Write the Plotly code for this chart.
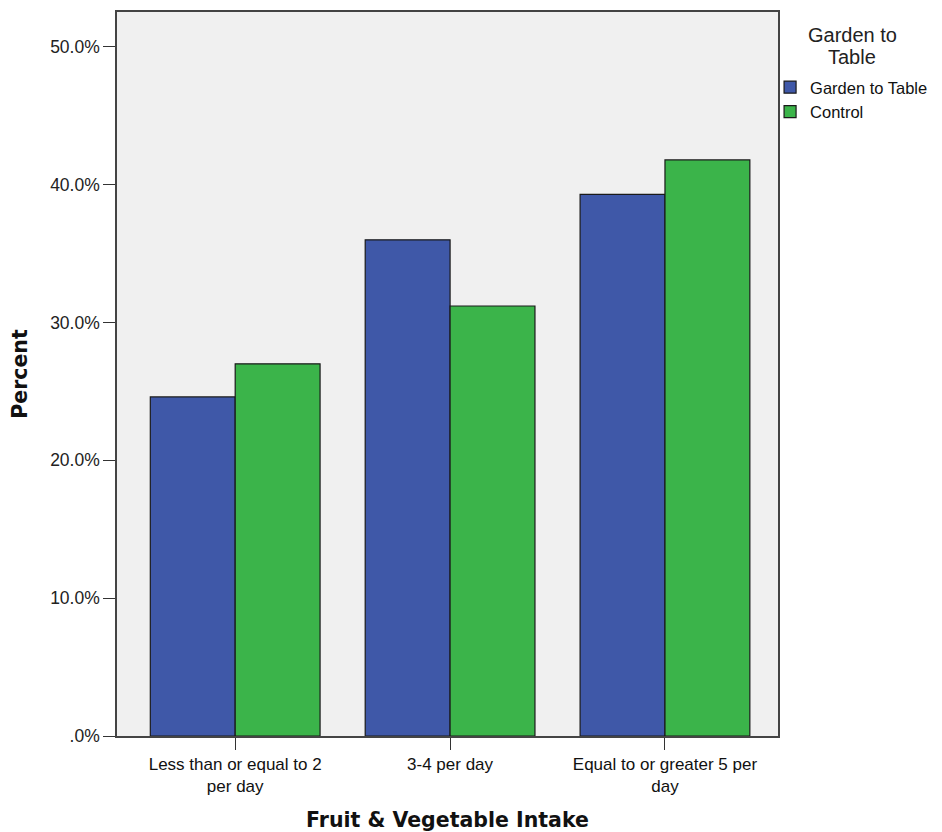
import plotly.graph_objects as go

categories = ["Less than or equal to 2<br>per day", "3-4 per day", "Equal to or greater 5 per<br>day"]
garden = [24.6, 36.0, 39.3]
control = [27.0, 31.2, 41.8]
y_tickvals = [0, 10, 20, 30, 40, 50]
y_ticktext = [".0%", "10.0%", "20.0%", "30.0%", "40.0%", "50.0%"]
legend_title_lines = ["Garden to", "Table"]

x = [0, 1, 2]
fig = go.Figure()
fig.add_trace(go.Bar(x=x, y=garden, name="Garden to Table",
                     marker=dict(color="#3F58A8", line=dict(color="#1a1a1a", width=1.2))))
fig.add_trace(go.Bar(x=x, y=control, name="Control",
                     marker=dict(color="#3BB44A", line=dict(color="#1a1a1a", width=1.2))))

title_font = dict(size=20.5, family="DejaVu Sans, Verdana, sans-serif", color="#111")

# plot area: top 10px, height 726px in the window
def ypaper(px):
    return 1 - (px - 10) / 726

fig.update_layout(
    width=934, height=824,
    margin=dict(l=109, r=164, t=2, b=96),
    paper_bgcolor="white", plot_bgcolor="#F0F0F0",
    barmode="group", bargap=0.21, bargroupgap=0,
    font=dict(family="Arial, Liberation Sans, sans-serif", size=17, color="#222"),
    legend=dict(
        x=0.988, xanchor="left", y=0.92, yanchor="top",
        font=dict(size=16.5, color="#111"), itemwidth=30, tracegroupgap=0,
        bgcolor="rgba(0,0,0,0)",
    ),
    xaxis=dict(
        tickmode="array", tickvals=x, ticktext=categories,
        range=[-0.55, 2.526], showgrid=False, zeroline=False,
        ticks="outside", ticklen=12, tickcolor="#333", tickwidth=1,
        showline=True, linecolor="#444", linewidth=1.5, mirror=True,
        tickfont=dict(size=17, color="#111"),
        title=dict(text="<b>Fruit & Vegetable Intake</b>", standoff=18, font=title_font),
    ),
    yaxis=dict(
        tickmode="array", tickvals=y_tickvals, ticktext=y_ticktext,
        range=[0, 52.53], showgrid=False, zeroline=False,
        ticks="outside", ticklen=12, tickcolor="#333", tickwidth=1,
        showline=True, linecolor="#444", linewidth=1.5, mirror=True,
        tickfont=dict(size=17.5, color="#222"),
        title=dict(text="<b>Percent</b>", standoff=18, font=title_font),
    ),
    annotations=[
        dict(text=legend_title_lines[0], xref="paper", yref="paper",
             x=1.112, y=ypaper(33), xanchor="center", yanchor="middle", showarrow=False,
             font=dict(size=20, color="#222")),
        dict(text=legend_title_lines[1], xref="paper", yref="paper",
             x=1.112, y=ypaper(55), xanchor="center", yanchor="middle", showarrow=False,
             font=dict(size=20, color="#222")),
    ],
)

fig.write_html("out.html")
